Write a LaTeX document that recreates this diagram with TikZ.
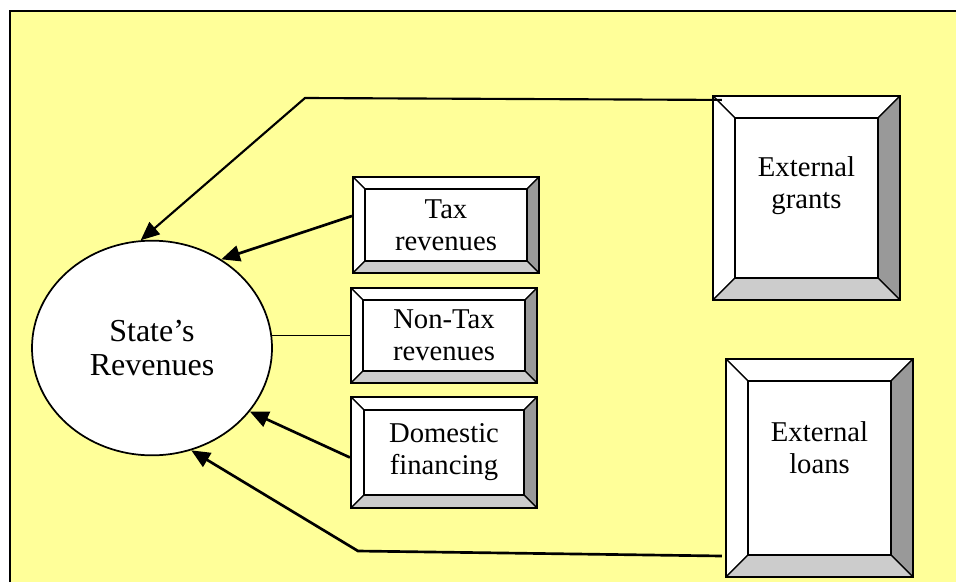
\documentclass[tikz,border=0pt]{standalone}
\usepackage{fontspec}
\setmainfont{Liberation Serif}
\usetikzlibrary{shapes.geometric,arrows.meta}
\definecolor{bgyellow}{HTML}{FFFF99}
\definecolor{bevdark}{HTML}{999999}
\definecolor{bevlight}{HTML}{CCCCCC}
\tikzset{
  bevelw/.store in=\bevw, bevelw=12,
  bevelbox/.style={draw, fill=white, line width=1.6pt, align=center, inner sep=0pt,
    font=\fontsize{21.5}{24}\selectfont,
    path picture={
      \path (path picture bounding box.north west) coordinate (pa)
            (path picture bounding box.north east) coordinate (pb)
            (path picture bounding box.south east) coordinate (pc)
            (path picture bounding box.south west) coordinate (pd);
      \path ([shift={(\bevw,\bevw)}]pa) coordinate (qa)
            ([shift={(-\bevw,\bevw)}]pb) coordinate (qb)
            ([shift={(-\bevw,-\bevw)}]pc) coordinate (qc)
            ([shift={(\bevw,-\bevw)}]pd) coordinate (qd);
      \begin{scope}[line width=1pt]
        \filldraw[fill=white] (pa) -- (pb) -- (qb) -- (qa) -- cycle;
        \filldraw[fill=white] (pa) -- (qa) -- (qd) -- (pd) -- cycle;
        \filldraw[fill=bevdark] (pb) -- (pc) -- (qc) -- (qb) -- cycle;
        \filldraw[fill=bevlight] (pd) -- (qd) -- (qc) -- (pc) -- cycle;
        \draw (qa) rectangle (qc);
      \end{scope}
    }},
  arr/.style={->, line width=2pt}
}
\begin{document}
\begin{tikzpicture}[>={Triangle[length=14pt,width=12pt]},x=0.75pt,y=-0.75pt]
  % cadre jaune
  \useasboundingbox (0,0) rectangle (956,582);
  \fill[bgyellow] (10,11) rectangle (956,582);
  \draw[line width=2pt] (10,582) -- (10,11) -- (956,11);
  % les noeuds
  \node[ellipse, draw, fill=white, line width=1.3pt, minimum width=180pt, minimum height=161pt,
        align=center, font=\fontsize{24}{25}\selectfont] (state) at (152,348) {State’s\\Revenues};
  \node[bevelbox, bevelw=12, minimum width=139.5pt, minimum height=72pt] (tax) at (446,225) {Tax\\revenues};
  \node[bevelbox, bevelw=12, minimum width=139.5pt, minimum height=71.25pt] (nontax) at (444,335.5) {Non-Tax\\revenues};
  \node[bevelbox, bevelw=13, minimum width=139.5pt, minimum height=83.25pt] (domestic) at (444,452.5) {Domestic\\financing};
  \node[bevelbox, bevelw=22, minimum width=140.25pt, minimum height=153pt, text depth=23pt] (grants) at (806.5,198) {External\\grants};
  \node[bevelbox, bevelw=22, minimum width=140.25pt, minimum height=163.5pt, text depth=30pt] (loans) at (819.5,468) {External\\loans};
  % fleches
  \coordinate (gbend) at (305,98);
  \coordinate (lbend) at (358,551);
  \draw[arr, line width=1.6pt] ([shift={(10,5)}]grants.north west) -- (gbend) -- (state.96);
  \draw[arr] ([shift={(0,-9)}]tax.west) -- (state.52);
  \draw[line width=1pt] (state.6) -- (state.6 -| nontax.west);
  \draw[arr] ([shift={(0,5)}]domestic.west) -- (state.-33);
  \draw[arr] ([shift={(-3,88)}]loans.west) -- (lbend) -- (state.-69);
\end{tikzpicture}
\end{document}
